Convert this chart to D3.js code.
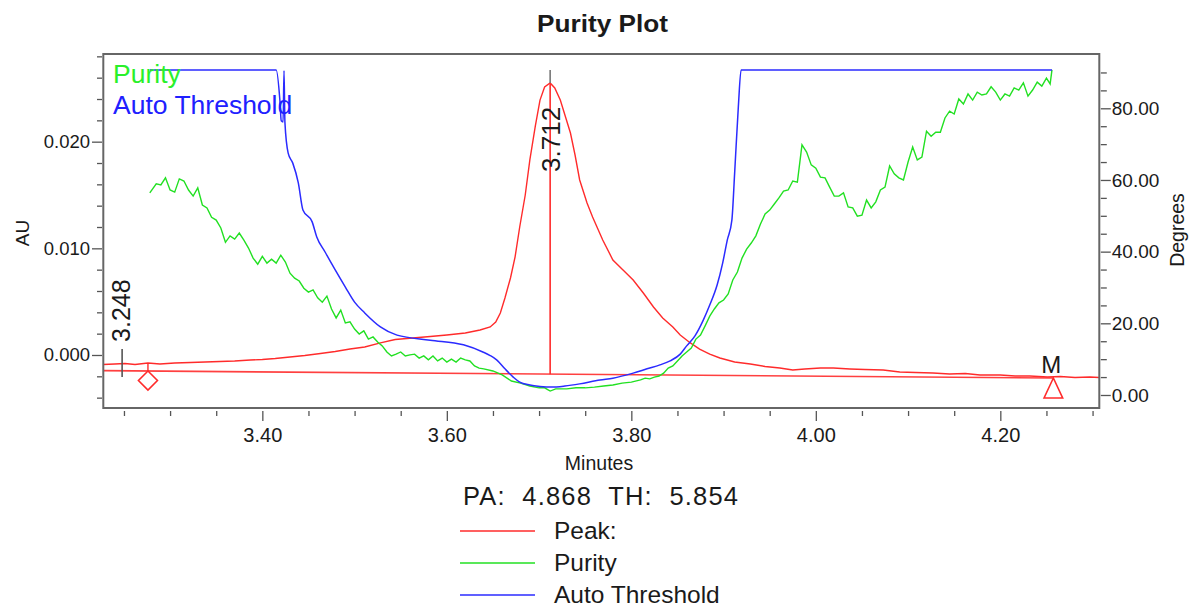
<!DOCTYPE html>
<html><head><meta charset="utf-8">
<script src="https://cdn.jsdelivr.net/npm/d3@7"></script>
<style>body{margin:0;background:#fff;}svg{display:block;}</style>
</head><body>
<svg id="c" width="1191" height="609"></svg>
<script>
// ---------------- data ----------------
const chartTitle = "Purity Plot";
const xLabel = "Minutes", yLeftLabel = "AU", yRightLabel = "Degrees";
const xMajorTicks = [3.40, 3.60, 3.80, 4.00, 4.20];
const xMinorTicks = [3.25,3.30,3.35,3.45,3.50,3.55,3.65,3.70,3.75,3.85,3.90,3.95,4.05,4.10,4.15,4.25,4.30];
const leftMajorTicks = [0.000, 0.010, 0.020];
const leftMinorTicks = [-0.004,-0.002,0.002,0.004,0.006,0.008,0.012,0.014,0.016,0.018,0.022,0.024,0.026,0.028];
const rightMajorTicks = [0, 20, 40, 60, 80];
const rightMinorTicks = [5,10,15,25,30,35,45,50,55,65,70,75,85,90];

// Peak trace (AU)
const peakTimes = [3.227,3.240,3.251,3.262,3.276,3.289,3.305,3.322,3.338,3.354,
 3.370,3.387,3.400,3.414,3.430,3.446,3.463,3.479,3.495,3.511,
 3.528,3.544,3.563,3.582,3.600,3.620,3.636,3.647,3.653,3.658,
 3.663,3.669,3.674,3.679,3.685,3.690,3.696,3.701,3.706,3.712,
 3.717,3.723,3.728,3.734,3.739,3.744,3.752,3.758,3.769,3.780,
 3.791,3.802,3.813,3.824,3.834,3.845,3.853,3.864,3.874,3.885,
 3.896,3.912,3.929,3.945,3.961,3.975,3.988,4.005,4.019,4.037,
 4.053,4.073,4.091,4.108,4.127,4.145,4.162,4.178,4.200,4.216,
 4.232,4.251,4.265,4.281,4.297,4.307];
const peakAU = [-0.00089,-0.00084,-0.00080,-0.00089,-0.00075,-0.00084,-0.00075,-0.00070,-0.00066,-0.00061,
 -0.00056,-0.00047,-0.00042,-0.00033,-0.00019,-0.00005,0.00014,0.00033,0.00056,0.00075,
 0.00113,0.00145,0.00159,0.00173,0.00188,0.00206,0.00234,0.00263,0.00309,0.00394,
 0.00534,0.00722,0.00920,0.01200,0.01500,0.01830,0.02150,0.02390,0.02513,0.02551,
 0.02504,0.02391,0.02250,0.02081,0.01875,0.01641,0.01425,0.01294,0.01078,0.00891,
 0.00797,0.00703,0.00581,0.00450,0.00347,0.00263,0.00188,0.00113,0.00056,0.00009,
 -0.00028,-0.00066,-0.00084,-0.00108,-0.00122,-0.00141,-0.00131,-0.00122,-0.00122,-0.00131,
 -0.00136,-0.00141,-0.00159,-0.00164,-0.00169,-0.00178,-0.00173,-0.00188,-0.00188,-0.00197,
 -0.00197,-0.00206,-0.00202,-0.00211,-0.00206,-0.00211];

// Purity angle (degrees)
const purityTimes = [3.278,3.285,3.290,3.295,3.300,3.305,3.310,3.315,3.320,3.325,
 3.330,3.335,3.340,3.345,3.350,3.355,3.360,3.365,3.370,3.375,
 3.380,3.385,3.390,3.395,3.400,3.405,3.410,3.415,3.420,3.425,
 3.430,3.435,3.440,3.445,3.450,3.455,3.460,3.465,3.470,3.475,
 3.480,3.485,3.490,3.495,3.500,3.505,3.510,3.515,3.520,3.525,
 3.530,3.535,3.540,3.545,3.550,3.555,3.560,3.565,3.570,3.575,
 3.580,3.585,3.590,3.595,3.600,3.605,3.610,3.615,3.620,3.625,
 3.630,3.635,3.640,3.650,3.660,3.670,3.680,3.690,3.700,3.706,
 3.712,3.718,3.730,3.740,3.750,3.760,3.770,3.780,3.790,3.800,
 3.810,3.815,3.820,3.825,3.830,3.835,3.840,3.845,3.850,3.855,
 3.860,3.865,3.870,3.875,3.880,3.885,3.890,3.895,3.900,3.905,
 3.910,3.915,3.920,3.925,3.930,3.935,3.940,3.945,3.950,3.955,
 3.960,3.965,3.970,3.975,3.980,3.985,3.990,3.995,4.000,4.005,
 4.010,4.015,4.020,4.025,4.030,4.035,4.040,4.045,4.050,4.055,
 4.060,4.065,4.070,4.075,4.080,4.085,4.090,4.095,4.100,4.105,
 4.110,4.115,4.120,4.125,4.130,4.135,4.140,4.145,4.150,4.155,
 4.160,4.165,4.170,4.175,4.180,4.185,4.190,4.195,4.200,4.205,
 4.210,4.215,4.220,4.225,4.230,4.235,4.240,4.245,4.250,4.254,
 4.256];
const purityDeg = [56.4,58.9,58.6,60.6,57.2,56.6,60.3,59.7,57.2,55.5,
 57.8,53.0,52.2,49.6,48.8,46.6,42.6,44.4,43.5,45.2,
 43.2,41.0,38.2,36.5,38.7,36.8,37.9,36.8,39.0,37.1,
 34.0,32.6,31.8,29.8,28.7,29.3,27.1,25.9,27.6,24.0,
 21.5,23.7,20.1,20.4,18.4,17.0,17.9,15.6,16.2,14.8,
 13.7,12.0,10.9,11.4,12.0,10.9,11.2,11.4,10.3,10.9,
 9.8,10.9,9.5,10.3,9.2,10.0,9.2,10.3,9.8,9.5,
 8.1,7.5,7.3,6.7,5.6,3.9,3.3,2.5,2.0,2.0,
 1.1,1.7,1.7,2.0,2.0,2.2,2.5,2.8,3.3,3.6,
 4.2,4.7,4.5,5.0,5.3,6.1,7.5,8.1,9.5,10.9,
 12.0,13.1,15.6,16.7,19.3,22.0,24.0,25.7,26.5,28.2,
 32.1,34.3,38.2,40.7,42.4,44.4,47.7,50.5,51.6,53.3,
 55.0,56.9,57.2,59.7,59.4,69.8,67.8,64.2,63.3,60.8,
 60.6,58.0,55.5,55.5,56.4,52.5,52.2,49.9,50.2,54.4,
 52.2,53.9,57.2,58.0,63.9,61.7,60.6,60.0,65.0,69.2,
 65.6,66.4,73.6,72.2,73.3,73.3,77.3,79.2,78.4,82.6,
 81.2,84.0,82.3,84.5,83.7,84.0,86.0,84.5,82.3,84.0,
 83.4,85.7,85.1,87.1,83.4,85.1,87.3,86.2,88.4,86.8,
 90.7];

// Auto threshold angle (degrees)
const thresholdTimes = [3.278,3.415,3.419,3.4205,3.4225,3.4235,3.4245,3.428,3.433,3.439,
 3.444,3.454,3.459,3.468,3.479,3.490,3.500,3.511,3.528,3.546,
 3.582,3.618,3.639,3.647,3.654,3.663,3.672,3.679,3.690,3.701,
 3.713,3.728,3.744,3.766,3.780,3.802,3.817,3.831,3.842,3.853,
 3.860,3.869,3.878,3.885,3.893,3.899,3.904,3.909,3.912,3.916,
 3.919,4.256];
const thresholdDeg = [90.7,90.7,82.3,76.5,76.2,90.5,76.0,67.5,64.7,59.2,
 51.6,48.3,44.1,39.9,34.9,30.1,25.9,22.9,19.0,16.7,
 15.3,14.0,12.0,11.0,9.8,7.3,5.0,3.6,2.8,2.4,
 2.2,2.5,3.1,4.2,4.7,6.1,7.3,8.4,9.5,11.4,
 13.7,16.5,20.9,25.1,30.7,36.8,43.2,48.8,61.9,80.4,
 90.7,90.7];

// Integration baseline, peak events
const baselineTimes = [3.2276, 4.2575];
const baselineAU = [-0.00147, -0.00216];
const startMarkTime = 3.248, startMarkAU = -0.00084;
const apexTime = 3.712, apexAU = 0.02551, apexTopAU = 0.02672;
const peakStartTime = 3.276, peakEndTime = 4.2575;
const purityAngle = "4.868", thresholdAngle = "5.854";
const legendLabels = ["Peak:", "Purity", "Auto Threshold"];
const insetLegend = ["Purity", "Auto Threshold"];

// ---------------- drawing ----------------
const FONT = '"Liberation Sans", Arial, Helvetica, sans-serif';
const COL = {peak:"#ff2b2b", purity:"#22e022", thr:"#2b2bff", axis:"#555", text:"#1a1a1a"};
const svg = d3.select("#c").attr("font-family", FONT);
const X0 = 103.3, X1 = 1099.3, Y0 = 54, Y1 = 408;
const x = d3.scaleLinear().domain([3.2276, 4.3073]).range([X0, X1]);
const yL = d3.scaleLinear().domain([-0.00497, 0.02822]).range([Y1, Y0]);
const yR = d3.scaleLinear().domain([-3.63, 95.15]).range([Y1, Y0]);

// title
svg.append("text").attr("x", 602.5).attr("y", 32).attr("text-anchor", "middle")
  .attr("font-weight", "bold").attr("font-size", 24).attr("fill", COL.text)
  .attr("textLength", 131).attr("lengthAdjust", "spacingAndGlyphs").text(chartTitle);

function styleAxis(g, fs) {
  g.attr("font-family", FONT).attr("font-size", fs).attr("color", COL.text);
  g.select(".domain").remove();
  g.selectAll(".tick line").attr("stroke", COL.axis).attr("stroke-width", 1.3);
}
// x axis
styleAxis(svg.append("g").attr("transform", "translate(0,411)")
  .call(d3.axisBottom(x).tickValues(xMinorTicks).tickSize(5).tickFormat("")), 20);
const gx = svg.append("g").attr("transform", "translate(0,411)")
  .call(d3.axisBottom(x).tickValues(xMajorTicks).tickSize(10).tickFormat(d3.format(".2f")));
styleAxis(gx, 20);
gx.selectAll("text").attr("y", 31).attr("dy", 0);
// left axis
styleAxis(svg.append("g").attr("transform", "translate(102,0)")
  .call(d3.axisLeft(yL).tickValues(leftMinorTicks).tickSize(5).tickFormat("")), 18.5);
const gl = svg.append("g").attr("transform", "translate(102,0)")
  .call(d3.axisLeft(yL).tickValues(leftMajorTicks).tickSize(10).tickPadding(2).tickFormat(d3.format(".3f")));
styleAxis(gl, 18.5);
// right axis
styleAxis(svg.append("g").attr("transform", "translate(1100.8,0)")
  .call(d3.axisRight(yR).tickValues(rightMinorTicks).tickSize(6).tickFormat("")), 19);
const gr = svg.append("g").attr("transform", "translate(1100.8,0)")
  .call(d3.axisRight(yR).tickValues(rightMajorTicks).tickSize(10).tickPadding(1).tickFormat(d3.format(".2f")));
styleAxis(gr, 19);

// axis titles
svg.append("text").attr("transform", "translate(29,233) rotate(-90)").attr("text-anchor", "middle")
  .attr("font-size", 19).attr("fill", COL.text).text(yLeftLabel);
svg.append("text").attr("transform", "translate(1184,230) rotate(-90)").attr("text-anchor", "middle")
  .attr("font-size", 19.5).attr("fill", COL.text).text(yRightLabel);
svg.append("text").attr("x", 599).attr("y", 470).attr("text-anchor", "middle")
  .attr("font-size", 19.5).attr("fill", COL.text).text(xLabel);

// clip
svg.append("clipPath").attr("id", "clip").append("rect")
  .attr("x", X0).attr("y", Y0).attr("width", X1 - X0).attr("height", Y1 - Y0);
const plot = svg.append("g").attr("clip-path", "url(#clip)");

// baseline
const baseAt = t => baselineAU[0] + (t - baselineTimes[0]) / (baselineTimes[1] - baselineTimes[0]) * (baselineAU[1] - baselineAU[0]);
plot.append("path").datum(d3.zip(baselineTimes, baselineAU))
  .attr("d", d3.line().x(d => x(d[0])).y(d => yL(d[1])))
  .attr("fill", "none").attr("stroke", COL.peak).attr("stroke-width", 1.6).attr("opacity", 0.9);

// traces
plot.append("path").datum(d3.zip(peakTimes, peakAU))
  .attr("d", d3.line().x(d => x(d[0])).y(d => yL(d[1])))
  .attr("fill", "none").attr("stroke", COL.peak).attr("stroke-width", 1.4);
plot.append("path").datum(d3.zip(purityTimes, purityDeg))
  .attr("d", d3.line().x(d => x(d[0])).y(d => yR(d[1])))
  .attr("fill", "none").attr("stroke", COL.purity).attr("stroke-width", 1.4);
plot.append("path").datum(d3.zip(thresholdTimes, thresholdDeg))
  .attr("d", d3.line().curve(d3.curveMonotoneX).x(d => x(d[0])).y(d => yR(d[1])))
  .attr("fill", "none").attr("stroke", COL.thr).attr("stroke-width", 1.5);

// apex drop line
plot.append("line").attr("x1", x(apexTime)).attr("x2", x(apexTime))
  .attr("y1", yL(apexTopAU)).attr("y2", yL(apexAU)).attr("stroke", "#777").attr("stroke-width", 1.6);
plot.append("line").attr("x1", x(apexTime)).attr("x2", x(apexTime))
  .attr("y1", yL(apexAU)).attr("y2", yL(baseAt(apexTime))).attr("stroke", COL.peak).attr("stroke-width", 1.6);
svg.append("text").attr("transform", `translate(${x(apexTime) + 10},${yL(apexAU) + 89}) rotate(-90)`)
  .attr("font-size", 26).attr("fill", COL.text).text(apexTime.toFixed(3));

// start event mark
plot.append("line").attr("x1", x(startMarkTime)).attr("x2", x(startMarkTime))
  .attr("y1", yL(startMarkAU) - 15).attr("y2", yL(startMarkAU) + 13).attr("stroke", "#555").attr("stroke-width", 1.6);
svg.append("text").attr("transform", `translate(${x(startMarkTime) + 7.5},${yL(startMarkAU) - 22}) rotate(-90)`)
  .attr("font-size", 25).attr("fill", COL.text).text(startMarkTime.toFixed(3));

// peak start diamond
{
  const cx = x(peakStartTime), top = yL(baseAt(peakStartTime)), s = 9.5;
  svg.append("line").attr("x1", cx).attr("x2", cx).attr("y1", yL(-0.00075)).attr("y2", top)
    .attr("stroke", COL.peak).attr("stroke-width", 1.4);
  svg.append("path").attr("d", `M${cx},${top}L${cx + s},${top + s}L${cx},${top + 2 * s}L${cx - s},${top + s}Z`)
    .attr("fill", "none").attr("stroke", COL.peak).attr("stroke-width", 1.6);
}
// peak end triangle + M
{
  const cx = x(peakEndTime), top = yL(baseAt(peakEndTime));
  svg.append("path").attr("d", `M${cx},${top}L${cx + 9.3},${top + 20}L${cx - 9.3},${top + 20}Z`)
    .attr("fill", "none").attr("stroke", COL.peak).attr("stroke-width", 1.6);
  svg.append("text").attr("x", cx - 2).attr("y", top - 5).attr("text-anchor", "middle")
    .attr("font-size", 24).attr("fill", COL.text).text("M");
}

// frame
svg.append("rect").attr("x", X0).attr("y", Y0).attr("width", X1 - X0).attr("height", Y1 - Y0)
  .attr("fill", "none").attr("stroke", "#666").attr("stroke-width", 2);

// inset legend
svg.selectAll(".inset").data(insetLegend).join("text")
  .attr("x", 113).attr("y", (d, i) => 83 + i * 31)
  .attr("font-size", 26.5).attr("fill", (d, i) => i === 0 ? "#2af02a" : "#2020ff").text(d => d);

// bottom text + legend
svg.append("text").attr("x", 463).attr("y", 505).attr("font-size", 25.5).attr("fill", COL.text)
  .style("white-space", "pre").attr("textLength", 275).attr("lengthAdjust", "spacing")
  .text(`PA:  ${purityAngle}  TH:  ${thresholdAngle}`);
const legCols = [COL.peak, COL.purity, COL.thr];
const lg = svg.selectAll(".leg").data(legendLabels).join("g")
  .attr("transform", (d, i) => `translate(0,${531 + i * 32})`);
lg.append("line").attr("x1", 460).attr("x2", 535).attr("stroke", (d, i) => legCols[i]).attr("stroke-width", 1.6);
lg.append("text").attr("x", 554).attr("y", 8).attr("font-size", 24.5).attr("fill", COL.text).text(d => d);
</script>
</body></html>
